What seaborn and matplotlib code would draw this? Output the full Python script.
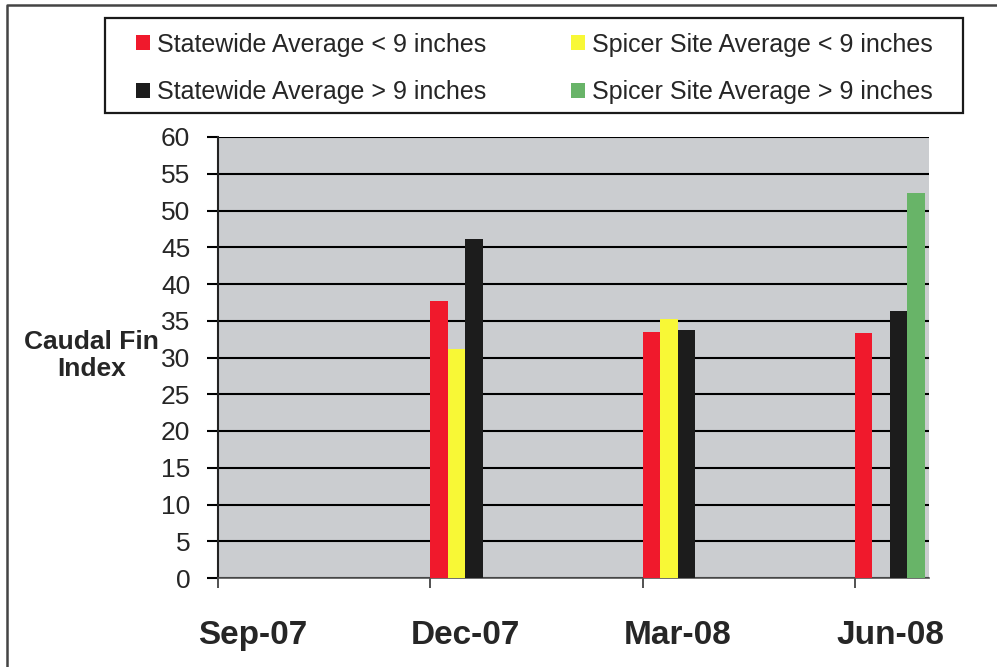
import numpy as np
import pandas as pd
import matplotlib.pyplot as plt
from matplotlib.lines import Line2D
from matplotlib.patches import Patch, Rectangle
import seaborn as sns

# data (Sep-07 has no bars)
dates = ["Sep-07", "Dec-07", "Mar-08", "Jun-08"]
series = [
    "Statewide Average < 9 inches",
    "Spicer Site Average < 9 inches",
    "Statewide Average > 9 inches",
    "Spicer Site Average > 9 inches",
]
statewide_small = [np.nan, 37.7, 33.5, 33.3]
spicer_small = [np.nan, 31.1, 35.2, np.nan]
statewide_large = [np.nan, 46.1, 33.8, 36.3]
spicer_large = [np.nan, np.nan, np.nan, 52.4]
colors = ["#f0192c", "#f8f836", "#1c1c1c", "#68b468"]
y_ticks = list(range(0, 61, 5))

df = pd.DataFrame({
    "date": dates * 4,
    "series": np.repeat(series, len(dates)),
    "value": statewide_small + spicer_small + statewide_large + spicer_large,
}).dropna()

sns.set_theme(style="white")
plt.rcParams["font.family"] = ["Liberation Sans", "DejaVu Sans"]

fig = plt.figure(figsize=(9.97, 6.67), dpi=100)
ax = fig.add_axes([218 / 997, 1 - 578 / 667, 711 / 997, 441 / 667])

width = 0.33
sns.barplot(data=df, x="date", y="value", hue="series", order=dates,
            hue_order=series, palette=colors, width=width, gap=0,
            linewidth=0, saturation=1, legend=False, ax=ax, zorder=3)

ax.set_facecolor("#cbcdd0")
ax.set_ylim(0, 60)
ax.set_xlim(-width / 2, 3 - width / 2 + 0.349)
ax.set_yticks(y_ticks)
ax.grid(axis="y", color="black", linewidth=1.5)
ax.set_axisbelow(True)

# labels sit at group centres, tick marks at the left edge of each group
ax.set_xticks(np.arange(len(dates)), dates)
ax.set_xticks(np.arange(len(dates)) - width / 2, minor=True)
ax.tick_params(axis="x", which="major", length=0, labelsize=24, pad=30)
ax.tick_params(axis="x", which="minor", direction="out", length=7, width=1.2,
               color="#333333", bottom=True)
ax.tick_params(axis="y", direction="out", length=8, width=1.5, color="black",
               left=True, labelsize=19, pad=12)
for lab in ax.get_xticklabels():
    lab.set_fontweight("bold")
for side in ["top", "right"]:
    ax.spines[side].set_visible(False)
ax.spines["left"].set_color("#222222")
ax.spines["left"].set_linewidth(1.5)
ax.spines["bottom"].set_color("#555555")
ax.spines["bottom"].set_linewidth(1.2)

ax.set_xlabel("")
ax.set_ylabel("Caudal Fin\nIndex", rotation=0, fontsize=19, fontweight="bold",
              ha="center", va="center", linespacing=1.15)
ax.yaxis.set_label_coords(-0.178, 0.505)

# legend: two rows, two columns, framed box at the top
handles = [Patch(facecolor=c, edgecolor="none") for c in colors]
order = [0, 2, 1, 3]
fig.legend([handles[i] for i in order], [series[i] for i in order],
           loc="center", ncol=2, mode="expand", frameon=False,
           bbox_to_anchor=(136 / 997, 1 - 116 / 667, (933 - 136) / 997, 95 / 667),
           fontsize=18, handlelength=0.55, handleheight=0.55,
           handletextpad=0.3, labelspacing=0.95, borderpad=0, borderaxespad=0)
fig.add_artist(Rectangle((105 / 997, 1 - 113 / 667), (963 - 105) / 997, 95 / 667,
                         transform=fig.transFigure, fill=False,
                         edgecolor="#1a1a1a", linewidth=1.6))

# outer frame (left and top edges visible)
fig.add_artist(Line2D([7 / 997, 7 / 997, 1.0], [0.0, 1 - 5 / 667, 1 - 5 / 667],
                      transform=fig.transFigure, color="#444444", linewidth=1.8))

fig.savefig("out.png", dpi=100)
plt.close(fig)
